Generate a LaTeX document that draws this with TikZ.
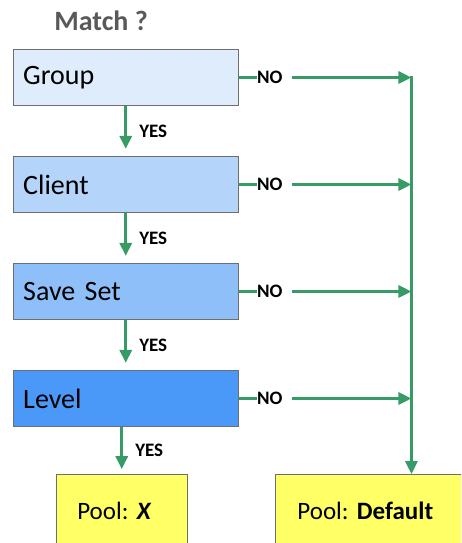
\documentclass[tikz,border=0pt]{standalone}
\usepackage{fontspec}
\setmainfont{Carlito}
\frenchspacing
\usetikzlibrary{positioning,arrows.meta}
\definecolor{groupblue}{HTML}{DFECFC}
\definecolor{clientblue}{HTML}{B5D4F9}
\definecolor{savesetblue}{HTML}{8FBFF8}
\definecolor{levelblue}{HTML}{4A98F7}
\definecolor{poolyellow}{HTML}{FFFF66}
\definecolor{boxborder}{HTML}{6E6E6E}
\definecolor{arrowgreen}{HTML}{379B66}
\definecolor{titlegray}{HTML}{595959}
\begin{document}
\begin{tikzpicture}[x=1pt,y=1pt,node distance=49.8pt]
        % Define styles for nodes and arrows
        \tikzstyle{box} = [rectangle, minimum width=225pt, minimum height=56pt, text width=205pt, inner xsep=10pt, align=left, draw=boxborder, line width=1.2pt, font=\fontsize{28}{32}\selectfont]
        \tikzstyle{pool} = [rectangle, minimum height=72pt, align=left, draw=boxborder, line width=1.2pt, fill=poolyellow, font=\fontsize{25}{30}\selectfont]
        \tikzstyle{arrow} = [line width=3pt, draw=arrowgreen, -{Triangle[length=13pt,width=12pt]}]
        \tikzstyle{connector} = [line width=3pt, draw=arrowgreen]
        \tikzstyle{answer} = [inner sep=0pt, font=\fontsize{19}{22}\selectfont\bfseries]
        \tikzstyle{title} = [inner sep=0pt, anchor=south west, text=titlegray, font=\fontsize{28}{32}\selectfont\bfseries]

        \clip (0,0) rectangle (461,-543);

        \node (group) [box, fill=groupblue] at (125.75,-77.5) {Group};
        \node (client) [box, fill=clientblue, below=of group] {Client};
        \node (saveset) [box, fill=savesetblue, below=of client] {Save Set};
        \node (level) [box, fill=levelblue, below=of saveset] {Level};
        \node (match) [title] at ([xshift=41.5pt,yshift=17.5pt]group.north west) {Match ?};

        \node (poolx) [pool, minimum width=131pt, text width=89pt, inner xsep=21pt, below=47pt of level, xshift=-4pt] {Pool: \textbf{\textit{X}}};
        \node (pooldefault) [pool, minimum width=272pt, text width=228pt, inner xsep=22pt, right=87pt of poolx] {Pool: \textbf{Default}};

        % YES arrows
        \draw [arrow, shorten >=7pt] (group) -- (client) node[midway, answer, right=12pt] {YES};
        \draw [arrow, shorten >=7pt] (client) -- (saveset) node[midway, answer, right=12pt] {YES};
        \draw [arrow, shorten >=7pt] (saveset) -- (level) node[midway, answer, right=12pt] {YES};
        \draw [arrow, shorten >=5pt] (level.south -| poolx.north) -- (poolx.north) node[midway, answer, right=12pt] {YES};

        % NO arrows
        \node (no1) [answer, right=18pt of group] {NO};
        \node (no2) [answer, right=18pt of client] {NO};
        \node (no3) [answer, right=18pt of saveset] {NO};
        \node (no4) [answer, right=18pt of level] {NO};
        \draw [connector] (group.east) -- (no1.west);
        \draw [connector] (client.east) -- (no2.west);
        \draw [connector] (saveset.east) -- (no3.west);
        \draw [connector] (level.east) -- (no4.west);
        \draw [arrow] ([xshift=9pt]no1.east) -- (no1.east -| pooldefault.north);
        \draw [arrow] ([xshift=9pt]no2.east) -- (no2.east -| pooldefault.north);
        \draw [arrow] ([xshift=9pt]no3.east) -- (no3.east -| pooldefault.north);
        \draw [arrow] ([xshift=9pt]no4.east) -- (no4.east -| pooldefault.north);
        \draw [arrow] ([yshift=1.5pt]group.east -| pooldefault.north) -- (pooldefault.north);
    \end{tikzpicture}
\end{document}
